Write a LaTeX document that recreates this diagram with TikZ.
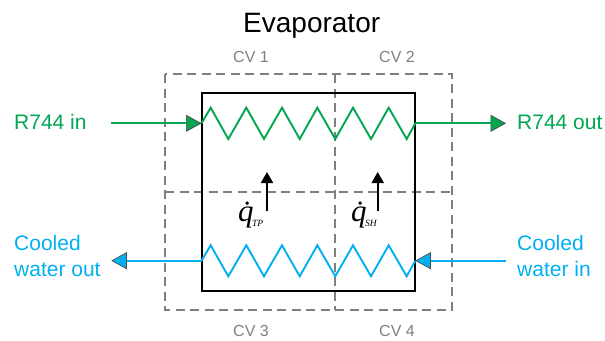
\documentclass[tikz,border=0pt]{standalone}
\usepackage{fontspec}
\setmainfont{Liberation Sans}
\newfontfamily\eqnfont{Liberation Serif}
\usetikzlibrary{arrows.meta}
\definecolor{refgreen}{HTML}{00A651}
\definecolor{waterblue}{HTML}{00B0F0}
\definecolor{cvgrey}{HTML}{7F7F7F}
\tikzset{
  label/.style={anchor=base west,inner sep=0pt,align=left,font=\fontsize{21}{26}\selectfont},
  cvlabel/.style={anchor=base west,inner sep=0pt,text=cvgrey,font=\fontsize{16}{18}\selectfont},
  cvline/.style={draw=cvgrey,line width=1.7pt,dash pattern=on 9pt off 5.5pt},
  coil/.style={line width=1.9pt,line join=miter},
  headtip/.style={-{Triangle[length=15.5pt,width=17pt,fill=#1,color=black!70,line width=.7pt]}},
  heatarrow/.style={line width=2pt,-{Triangle[length=11pt,width=12pt]},shorten >=0pt},
  heatlabel/.style={inner sep=0pt,anchor=base west,font=\eqnfont\itshape\fontsize{31}{31}\selectfont}
}
\newcommand{\heatsub}[1]{\kern-1.5pt\raisebox{-5pt}{\fontsize{9.5}{9.5}\selectfont #1}}
\begin{document}
\begin{tikzpicture}[x=1pt,y=-1pt]
\useasboundingbox (0,0) rectangle (605,340);

%title
\node (title) [anchor=base west,inner sep=0pt,font=\fontsize{28}{30}\selectfont] at (243,32) {Evaporator};

%control volumes
\draw[cvline] (165,74) rectangle (452.3,309.7);
\draw[cvline] (335.3,74) -- (335.3,309.7);
\draw[cvline] (165,192) -- (452.3,192);
\node (cv1) [cvlabel] at (233,62.3) {CV 1};
\node (cv2) [cvlabel] at (379,62.3) {CV 2};
\node (cv3) [cvlabel] at (233,336.7) {CV 3};
\node (cv4) [cvlabel] at (379,336.7) {CV 4};

%evaporator box
\draw[line width=2pt] (201.5,93) rectangle (415.3,290.7);

%end points
\coordinate (greenfree) at (111.3,123.3);
\coordinate (greenstart) at (201.5,123.3);
\coordinate (greenend) at (415.3,123.3);
\coordinate (greentip) at (506,123.3);
\coordinate (bluefree) at (505.7,260.7);
\coordinate (bluestart) at (415.3,260.7);
\coordinate (blueend) at (201.5,260.7);
\coordinate (bluetip) at (111.3,260.7);

%R744 coil
\draw[coil,refgreen] (greenstart)
  \foreach \x/\y in {210.7/107.7,228.3/139,246.3/107.7,264/139,282/107.7,299.7/139,317.3/107.7,335.3/139,353/107.7,371/139,388.7/107.7,406.7/139} { -- (\x,\y) }
  -- (greenend);
\draw[coil,refgreen,headtip=refgreen] (greenfree) -- (greenstart);
\draw[coil,refgreen,headtip=refgreen] (greenend) -- (greentip);
\node (r744in) [label,text=refgreen] at (14,129) {R744 in};
\node (r744out) [label,text=refgreen] at (517,129) {R744 out};

%water coil
\draw[coil,waterblue] (blueend)
  \foreach \x/\y in {210.7/245.3,228.3/276.3,246.3/245.3,264/276.3,282/245.3,299.7/276.3,317.3/245.3,335.3/276.3,353/245.3,371/276.3,388.7/245.3,406.7/276.3} { -- (\x,\y) }
  -- (bluestart);
\draw[coil,waterblue,headtip=waterblue] (bluefree) -- (bluestart);
\draw[coil,waterblue,headtip=waterblue] (blueend) -- (bluetip);
\node (waterout) [label,text=waterblue] at (14,276) {Cooled\\water out};
\node (waterin) [label,text=waterblue] at (517,276) {Cooled\\water in};

%heat flows
\coordinate (tpfoot) at (267,211.3);
\coordinate (tphead) at (267,172);
\coordinate (shfoot) at (377.7,211.3);
\coordinate (shhead) at (377.7,172);
\draw[heatarrow] (tpfoot) -- (tphead);
\draw[heatarrow] (shfoot) -- (shhead);
\node (qtp) [heatlabel] at (238,221.5) {\.q\heatsub{TP}};
\node (qsh) [heatlabel] at (351,221.5) {\.q\heatsub{SH}};

\end{tikzpicture}
\end{document}
